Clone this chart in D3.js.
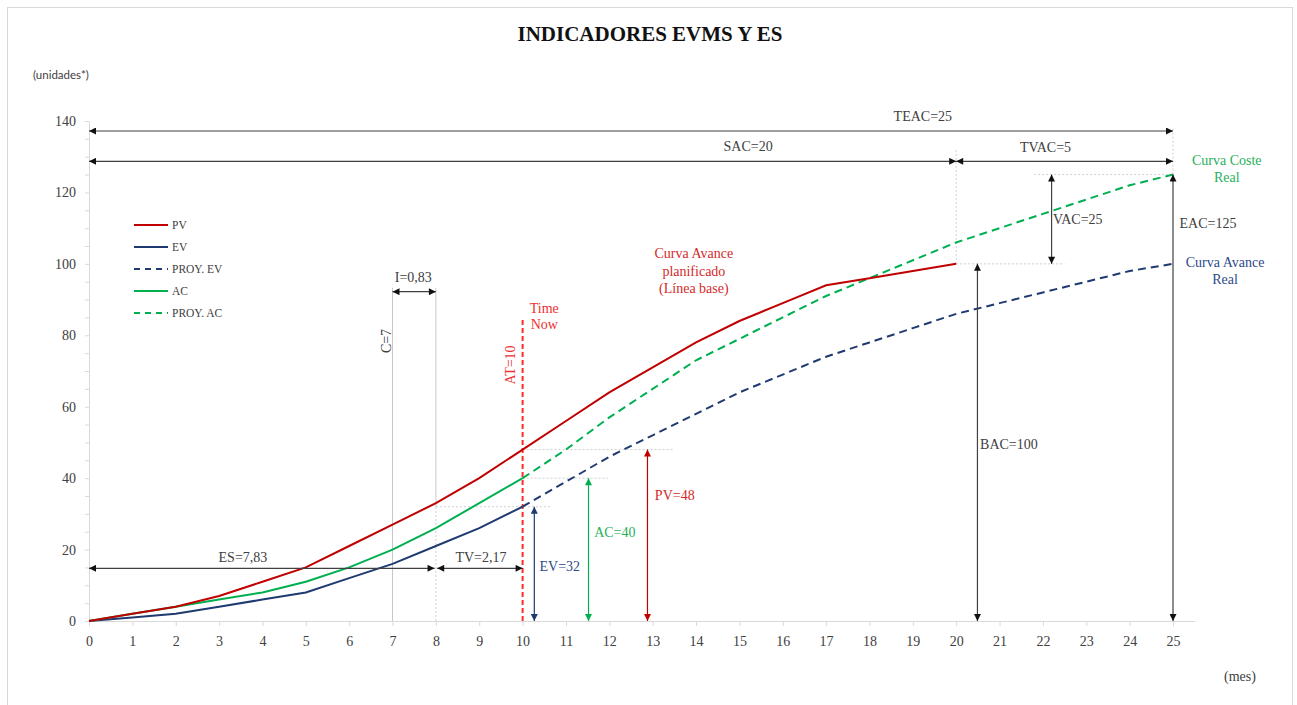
<!DOCTYPE html>
<html>
<head>
<meta charset="utf-8">
<title>Indicadores EVMS y ES</title>
<script src="https://cdnjs.cloudflare.com/ajax/libs/d3/7.8.5/d3.min.js"></script>
<style>
  body { margin: 0; background: #fff; }
  svg { display: block; font-family: "Liberation Serif", "Times New Roman", serif; }
  .axis path, .axis line { stroke: #d9d9d9; }
  .axis text { fill: #404040; font-size: 14px; font-family: "Liberation Serif", serif; }
</style>
</head>
<body>
<div id="chart"></div>
<script>
// ---- data ----
const pvMonths = [0,1,2,3,4,5,6,7,8,9,10,11,12,13,14,15,16,17,18,19,20];
const pvValues = [0,2,4,7,11,15,21,27,33,40,48,56,64,71,78,84,89,94,96,98,100];

const evMonths = [0,1,2,3,4,5,6,7,8,9,10];
const evValues = [0,1,2,4,6,8,12,16,21,26,32];
const acValues = [0,2,4,6,8,11,15,20,26,33,40];

const projMonths = [10,11,12,13,14,15,16,17,18,19,20,21,22,23,24,25];
const projEvValues = [32,39,46,52,58,64,69,74,78,82,86,89,92,95,98,100];
const projAcValues = [40,48,57,65,73,79,85,91,96,101,106,110,114,118,122,125];

const xTicks = [0,1,2,3,4,5,6,7,8,9,10,11,12,13,14,15,16,17,18,19,20,21,22,23,24,25];
const yTicks = [0,20,40,60,80,100,120,140];
const yMinorTicks = [5,10,15,25,30,35,45,50,55,65,70,75,85,90,95,105,110,115,125,130,135];

const legendNames = ["PV", "EV", "PROY. EV", "AC", "PROY. AC"];

// indicator values
const ES = 7.83, AT = 10, BAC = 100, EAC = 125, SAC = 20, TEAC = 25;
const EVnow = 32, ACnow = 40, PVnow = 48;

// ---- layout ----
const W = 1297, H = 705;
const x = d3.scaleLinear().domain([0, 25.5]).range([89, 89 + 25.5 * 43.36]);
const y = d3.scaleLinear().domain([0, 140]).range([621, 121]);

const RED = "#c00000", BLUE = "#1f3a70", GREEN = "#00b050", GREY = "#404040";

const svg = d3.select("#chart").append("svg").attr("width", W).attr("height", H);

svg.append("rect").attr("x", 7.5).attr("y", 7.5).attr("width", 1285).attr("height", 720)
  .attr("fill", "none").attr("stroke", "#d9d9d9");

// arrow markers
const defs = svg.append("defs");
function marker(id, color) {
  defs.append("marker").attr("id", id)
    .attr("viewBox", "0 0 10 10").attr("refX", 10).attr("refY", 5)
    .attr("markerWidth", 9).attr("markerHeight", 7).attr("markerUnits", "userSpaceOnUse")
    .attr("orient", "auto-start-reverse")
    .append("path").attr("d", "M0,0L10,5L0,10Z").attr("fill", color);
}
marker("ar-k", "#111");
marker("ar-b", BLUE);
marker("ar-g", GREEN);
marker("ar-r", RED);

// title
svg.append("text").attr("x", 650).attr("y", 41).attr("text-anchor", "middle")
  .attr("font-size", 21).attr("font-weight", "bold").attr("fill", "#111")
  .text("INDICADORES EVMS Y ES");
svg.append("text").attr("x", 33).attr("y", 79)
  .attr("font-family", "Lato, 'Liberation Sans', sans-serif").attr("font-size", 11.5).attr("fill", "#404040")
  .text("(unidades*)");
svg.append("text").attr("x", 1224).attr("y", 681).attr("font-size", 14).attr("fill", "#404040").text("(mes)");

// axes
svg.append("g").attr("class", "axis").attr("transform", "translate(89,0)")
  .call(d3.axisLeft(y).tickValues(yMinorTicks).tickSize(4).tickFormat(""))
  .call(g => g.select(".domain").remove());
svg.append("g").attr("class", "axis").attr("transform", "translate(89,0)")
  .call(d3.axisLeft(y).tickValues(yTicks).tickSize(4).tickPadding(9).tickSizeOuter(0));
svg.append("g").attr("class", "axis").attr("transform", "translate(0,621)")
  .call(d3.axisBottom(x).tickValues(xTicks).tickSize(5).tickPadding(10).tickSizeOuter(0));

// guide lines
const guide = svg.append("g");
function vline(m, v1, v2, color, dash, w) {
  guide.append("line").attr("x1", x(m)).attr("x2", x(m)).attr("y1", y(v1)).attr("y2", y(v2))
    .attr("stroke", color).attr("stroke-width", w || 1).attr("stroke-dasharray", dash || null);
}
function hline(v, m1, m2, color, dash) {
  guide.append("line").attr("x1", x(m1)).attr("x2", x(m2)).attr("y1", y(v)).attr("y2", y(v))
    .attr("stroke", color).attr("stroke-width", 1).attr("stroke-dasharray", dash || null);
}
const DOT = "#cfcfcf";
vline(7, 0, 93.3, "#c8c8c8");
vline(8, EVnow, 93.3, "#c8c8c8");
vline(8, 0, EVnow, DOT, "2,2");
hline(EVnow, 8, 10.67, DOT, "2,2");
hline(ACnow, 10, 11.97, DOT, "2,2");
hline(PVnow, 10, 13.5, DOT, "2,2");
hline(BAC, 20, 22.5, DOT, "2,2");
hline(EAC, 21.8, 25, DOT, "2,2");
vline(20, BAC, 131.9, DOT, "2,2");
vline(25, EAC, 138, DOT, "2,2");

// series
const line = d3.line().x(d => x(d[0])).y(d => y(d[1]));
function series(months, values, color, dash) {
  svg.append("path").datum(months.map((m, i) => [m, values[i]]))
    .attr("d", line).attr("fill", "none").attr("stroke", color).attr("stroke-width", 2)
    .attr("stroke-dasharray", dash || null);
}
series(projMonths, projEvValues, BLUE, "8,5");
series(projMonths, projAcValues, GREEN, "8,5");
series(evMonths, evValues, BLUE);
series(evMonths, acValues, GREEN);
series(pvMonths, pvValues, RED);

// time now
vline(AT, 0, 84.3, "#ff2a2a", "5,3", 2);

// arrows
function harrow(v, m1, m2, mk) {
  svg.append("line").attr("x1", x(m1)).attr("x2", x(m2)).attr("y1", y(v)).attr("y2", y(v))
    .attr("stroke", GREY).attr("stroke-width", 1.2)
    .attr("marker-start", `url(#${mk || "ar-k"})`).attr("marker-end", `url(#${mk || "ar-k"})`);
}
function varrow(m, v1, v2, color, mk) {
  svg.append("line").attr("x1", x(m)).attr("x2", x(m)).attr("y1", y(v1)).attr("y2", y(v2))
    .attr("stroke", color).attr("stroke-width", 1.2)
    .attr("marker-start", `url(#${mk})`).attr("marker-end", `url(#${mk})`);
}
harrow(137.2, 0, TEAC);
harrow(128.7, 0, SAC);
harrow(128.7, SAC, TEAC);
harrow(92.2, 7, 8);
harrow(14.75, 0, 7.97);
harrow(14.75, 8.03, AT);
varrow(22.2, BAC, EAC, GREY, "ar-k");
varrow(25, 0, EAC, GREY, "ar-k");
varrow(20.49, 0, BAC, GREY, "ar-k");
varrow(10.27, 0, EVnow, BLUE, "ar-b");
varrow(11.52, 0, ACnow, GREEN, "ar-g");
varrow(12.88, 0, PVnow, RED, "ar-r");

// labels
function label(m, v, txt, color, anchor, rot) {
  const t = svg.append("text").attr("font-size", 14).attr("fill", color)
    .attr("text-anchor", anchor || "middle").attr("dominant-baseline", "central").text(txt);
  if (rot) t.attr("transform", `translate(${x(m)},${y(v)}) rotate(-90)`);
  else t.attr("x", x(m)).attr("y", y(v));
}
label(19.23, 141.4, "TEAC=25", GREY);
label(15.2, 132.8, "SAC=20", GREY);
label(22.06, 132.7, "TVAC=5", GREY);
label(7.48, 96.2, "I=0,83", GREY);
label(3.55, 17.9, "ES=7,83", GREY);
label(9.04, 17.9, "TV=2,17", GREY);
label(6.86, 78.4, "C=7", GREY, "middle", true);
label(9.71, 71.7, "AT=10", "#f03030", "middle", true);
label(10.5, 87.5, "Time", "#f03030");
label(10.5, 82.9, "Now", "#f03030");
label(13.95, 102.8, "Curva Avance", "#d42a2a");
label(13.95, 98, "planificado", "#d42a2a");
label(13.95, 93.2, "(Línea base)", "#d42a2a");
label(26.24, 128.9, "Curva Coste", "#1fb15a");
label(26.24, 124.1, "Real", "#1fb15a");
label(26.2, 100.4, "Curva Avance", "#2e4a8a");
label(26.2, 95.6, "Real", "#2e4a8a");
label(22.23, 112.3, "VAC=25", GREY, "start");
label(25.15, 111.2, "EAC=125", GREY, "start");
label(20.55, 49.5, "BAC=100", GREY, "start");
label(10.39, 15.4, "EV=32", "#2e4a8a", "start");
label(11.65, 24.7, "AC=40", "#1fb15a", "start");
label(13.05, 35.1, "PV=48", "#d42a2a", "start");

// legend
const legendStyle = [
  { color: RED, dash: null },
  { color: BLUE, dash: null },
  { color: BLUE, dash: "6,5" },
  { color: GREEN, dash: null },
  { color: GREEN, dash: "6,5" }
];
const lg = svg.append("g").attr("transform", "translate(134,225)");
legendNames.forEach((n, i) => {
  const row = lg.append("g").attr("transform", `translate(0,${i * 22})`);
  row.append("line").attr("x1", 0).attr("x2", 34).attr("stroke", legendStyle[i].color)
    .attr("stroke-width", 2).attr("stroke-dasharray", legendStyle[i].dash);
  row.append("text").attr("x", 38).attr("dominant-baseline", "central")
    .attr("font-size", 11.5).attr("fill", GREY).text(n);
});
</script>
</body>
</html>
